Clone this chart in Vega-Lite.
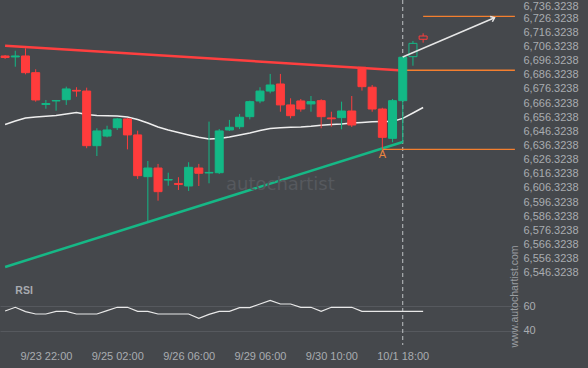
{
  "$schema": "https://vega.github.io/schema/vega-lite/v6.json",
  "width": 520,
  "height": 345,
  "autosize": {"type": "none"},
  "padding": {"left": 0, "top": 0, "right": 68, "bottom": 23},
  "background": "#45484c",
  "config": {
    "view": {"stroke": null},
    "font": "Liberation Sans",
    "axis": {"labelFont": "Liberation Sans", "labelOverlap": false, "labelSeparation": 0, "labelFontSize": 11},
    "text": {"font": "Liberation Sans"}
  },
  "datasets": {
    "candles": [
      {"t": "9/23 06:00", "o": 6699.6, "h": 6700.3, "l": 6697.5, "c": 6698.5, "k": "down"},
      {"t": "9/23 10:00", "o": 6698.9, "h": 6703.3, "l": 6692.0, "c": 6699.6, "k": "up"},
      {"t": "9/23 14:00", "o": 6699.6, "h": 6705.0, "l": 6686.6, "c": 6687.8, "k": "down"},
      {"t": "9/23 18:00", "o": 6687.8, "h": 6690.2, "l": 6667.3, "c": 6668.5, "k": "down"},
      {"t": "9/23 22:00", "o": 6665.3, "h": 6668.5, "l": 6662.3, "c": 6666.0, "k": "up"},
      {"t": "9/24 02:00", "o": 6667.8, "h": 6668.5, "l": 6660.9, "c": 6668.1, "k": "up"},
      {"t": "9/24 06:00", "o": 6668.7, "h": 6677.9, "l": 6665.0, "c": 6676.3, "k": "up"},
      {"t": "9/24 10:00", "o": 6675.3, "h": 6677.5, "l": 6670.8, "c": 6674.8, "k": "down"},
      {"t": "9/24 14:00", "o": 6674.8, "h": 6677.2, "l": 6634.4, "c": 6636.2, "k": "down"},
      {"t": "9/24 18:00", "o": 6636.2, "h": 6648.5, "l": 6628.9, "c": 6646.6, "k": "up"},
      {"t": "9/24 22:00", "o": 6643.0, "h": 6650.3, "l": 6642.1, "c": 6647.3, "k": "up"},
      {"t": "9/25 02:00", "o": 6648.9, "h": 6655.8, "l": 6647.3, "c": 6655.1, "k": "up"},
      {"t": "9/25 06:00", "o": 6655.1, "h": 6655.8, "l": 6633.6, "c": 6643.8, "k": "down"},
      {"t": "9/25 10:00", "o": 6643.8, "h": 6646.8, "l": 6612.7, "c": 6615.0, "k": "down"},
      {"t": "9/25 14:00", "o": 6614.3, "h": 6625.4, "l": 6582.5, "c": 6620.4, "k": "up"},
      {"t": "9/25 18:00", "o": 6620.4, "h": 6623.3, "l": 6597.3, "c": 6603.7, "k": "down"},
      {"t": "9/25 22:00", "o": 6611.9, "h": 6617.1, "l": 6607.9, "c": 6612.3, "k": "up"},
      {"t": "9/26 02:00", "o": 6609.5, "h": 6613.9, "l": 6604.9, "c": 6608.8, "k": "down"},
      {"t": "9/26 06:00", "o": 6607.7, "h": 6624.5, "l": 6604.2, "c": 6620.9, "k": "up"},
      {"t": "9/26 10:00", "o": 6620.4, "h": 6623.3, "l": 6607.7, "c": 6616.7, "k": "down"},
      {"t": "9/26 14:00", "o": 6616.9, "h": 6653.2, "l": 6609.6, "c": 6617.3, "k": "up"},
      {"t": "9/26 18:00", "o": 6617.1, "h": 6648.0, "l": 6616.2, "c": 6646.6, "k": "up"},
      {"t": "9/26 22:00", "o": 6647.3, "h": 6654.4, "l": 6646.6, "c": 6649.2, "k": "up"},
      {"t": "9/28 22:00", "o": 6649.6, "h": 6658.6, "l": 6648.0, "c": 6656.3, "k": "up"},
      {"t": "9/29 02:00", "o": 6656.7, "h": 6668.0, "l": 6654.8, "c": 6667.3, "k": "up"},
      {"t": "9/29 06:00", "o": 6667.8, "h": 6677.5, "l": 6666.2, "c": 6674.8, "k": "up"},
      {"t": "9/29 10:00", "o": 6674.8, "h": 6686.9, "l": 6673.2, "c": 6679.1, "k": "up"},
      {"t": "9/29 14:00", "o": 6679.8, "h": 6686.9, "l": 6660.2, "c": 6665.0, "k": "down"},
      {"t": "9/29 18:00", "o": 6665.0, "h": 6669.7, "l": 6655.5, "c": 6657.4, "k": "down"},
      {"t": "9/29 22:00", "o": 6667.8, "h": 6669.2, "l": 6660.2, "c": 6662.1, "k": "down"},
      {"t": "9/30 02:00", "o": 6665.7, "h": 6671.3, "l": 6660.2, "c": 6667.3, "k": "up"},
      {"t": "9/30 06:00", "o": 6668.0, "h": 6669.0, "l": 6648.5, "c": 6656.7, "k": "down"},
      {"t": "9/30 10:00", "o": 6655.8, "h": 6660.2, "l": 6649.6, "c": 6655.2, "k": "down"},
      {"t": "9/30 18:00", "o": 6656.0, "h": 6667.3, "l": 6647.8, "c": 6660.7, "k": "up"},
      {"t": "9/30 22:00", "o": 6660.7, "h": 6671.3, "l": 6649.4, "c": 6650.8, "k": "down"},
      {"t": "10/1 02:00", "o": 6691.6, "h": 6691.8, "l": 6675.1, "c": 6677.9, "k": "down"},
      {"t": "10/1 06:00", "o": 6677.5, "h": 6679.1, "l": 6660.2, "c": 6662.1, "k": "down"},
      {"t": "10/1 10:00", "o": 6662.1, "h": 6663.0, "l": 6633.6, "c": 6642.1, "k": "down"},
      {"t": "10/1 14:00", "o": 6641.4, "h": 6669.2, "l": 6638.6, "c": 6668.0, "k": "up"},
      {"t": "10/1 18:00", "o": 6668.0, "h": 6699.6, "l": 6638.1, "c": 6698.7, "k": "up"},
      {"t": "10/1 22:00", "o": 6699.1, "h": 6710.2, "l": 6692.7, "c": 6708.5, "k": "upH"},
      {"t": "10/2 02:00", "o": 6713.7, "h": 6715.6, "l": 6709.0, "c": 6711.4, "k": "downH"}
    ],
    "ma": [
      {"t": "9/23 06:00", "v": 6651.2}, {"t": "9/23 10:00", "v": 6653.6}, {"t": "9/23 14:00", "v": 6655.8},
      {"t": "9/23 18:00", "v": 6656.5}, {"t": "9/23 22:00", "v": 6657.0}, {"t": "9/24 02:00", "v": 6657.5},
      {"t": "9/24 06:00", "v": 6658.6}, {"t": "9/24 10:00", "v": 6659.6}, {"t": "9/24 14:00", "v": 6658.2},
      {"t": "9/24 18:00", "v": 6657.5}, {"t": "9/24 22:00", "v": 6657.3}, {"t": "9/25 02:00", "v": 6657.2},
      {"t": "9/25 06:00", "v": 6656.5}, {"t": "9/25 10:00", "v": 6654.7}, {"t": "9/25 14:00", "v": 6652.2},
      {"t": "9/25 18:00", "v": 6649.4}, {"t": "9/25 22:00", "v": 6647.3}, {"t": "9/26 02:00", "v": 6645.5},
      {"t": "9/26 06:00", "v": 6643.8}, {"t": "9/26 10:00", "v": 6642.1}, {"t": "9/26 14:00", "v": 6640.9},
      {"t": "9/26 18:00", "v": 6641.3}, {"t": "9/26 22:00", "v": 6642.3}, {"t": "9/28 22:00", "v": 6643.8},
      {"t": "9/29 02:00", "v": 6645.2}, {"t": "9/29 06:00", "v": 6646.9}, {"t": "9/29 10:00", "v": 6648.3},
      {"t": "9/29 14:00", "v": 6648.8}, {"t": "9/29 18:00", "v": 6649.2}, {"t": "9/29 22:00", "v": 6649.4},
      {"t": "9/30 02:00", "v": 6649.9}, {"t": "9/30 06:00", "v": 6650.7}, {"t": "9/30 10:00", "v": 6651.2},
      {"t": "9/30 18:00", "v": 6651.5}, {"t": "9/30 22:00", "v": 6652.2}, {"t": "10/1 02:00", "v": 6652.6},
      {"t": "10/1 06:00", "v": 6653.1}, {"t": "10/1 10:00", "v": 6653.2}, {"t": "10/1 14:00", "v": 6653.3},
      {"t": "10/1 18:00", "v": 6655.5}, {"t": "10/1 22:00", "v": 6659.3}, {"t": "10/2 02:00", "v": 6663.2}
    ],
    "rsi": [
      {"t": "9/23 06:00", "r": 56.1}, {"t": "9/23 10:00", "r": 59.2}, {"t": "9/23 14:00", "r": 55.6},
      {"t": "9/23 18:00", "r": 53.7}, {"t": "9/23 22:00", "r": 53.7}, {"t": "9/24 02:00", "r": 55.9},
      {"t": "9/24 06:00", "r": 55.9}, {"t": "9/24 10:00", "r": 53.7}, {"t": "9/24 14:00", "r": 53.7},
      {"t": "9/24 18:00", "r": 53.7}, {"t": "9/24 22:00", "r": 56.4}, {"t": "9/25 02:00", "r": 59.2},
      {"t": "9/25 06:00", "r": 59.2}, {"t": "9/25 10:00", "r": 55.9}, {"t": "9/25 14:00", "r": 55.9},
      {"t": "9/25 18:00", "r": 53.7}, {"t": "9/25 22:00", "r": 53.7}, {"t": "9/26 02:00", "r": 53.7},
      {"t": "9/26 06:00", "r": 53.7}, {"t": "9/26 10:00", "r": 50.2}, {"t": "9/26 14:00", "r": 53.4},
      {"t": "9/26 18:00", "r": 55.9}, {"t": "9/26 22:00", "r": 55.9}, {"t": "9/28 22:00", "r": 58.9},
      {"t": "9/29 02:00", "r": 58.9}, {"t": "9/29 06:00", "r": 61.9}, {"t": "9/29 10:00", "r": 64.9},
      {"t": "9/29 14:00", "r": 61.9}, {"t": "9/29 18:00", "r": 61.9}, {"t": "9/29 22:00", "r": 59.2},
      {"t": "9/30 02:00", "r": 59.2}, {"t": "9/30 06:00", "r": 55.9}, {"t": "9/30 10:00", "r": 59.2},
      {"t": "9/30 18:00", "r": 59.2}, {"t": "9/30 22:00", "r": 59.2}, {"t": "10/1 02:00", "r": 55.9},
      {"t": "10/1 06:00", "r": 55.9}, {"t": "10/1 10:00", "r": 55.9}, {"t": "10/1 14:00", "r": 55.9},
      {"t": "10/1 18:00", "r": 55.9}, {"t": "10/1 22:00", "r": 55.9}, {"t": "10/2 02:00", "r": 55.9}
    ]
  },
  "layer": [
    {
      "encoding": {
        "x": {
          "field": "t", "type": "ordinal",
          "scale": {"type": "point", "padding": 0.5, "domain": ["9/23 06:00","9/23 10:00","9/23 14:00","9/23 18:00","9/23 22:00","9/24 02:00","9/24 06:00","9/24 10:00","9/24 14:00","9/24 18:00","9/24 22:00","9/25 02:00","9/25 06:00","9/25 10:00","9/25 14:00","9/25 18:00","9/25 22:00","9/26 02:00","9/26 06:00","9/26 10:00","9/26 14:00","9/26 18:00","9/26 22:00","9/28 22:00","9/29 02:00","9/29 06:00","9/29 10:00","9/29 14:00","9/29 18:00","9/29 22:00","9/30 02:00","9/30 06:00","9/30 10:00","9/30 18:00","9/30 22:00","10/1 02:00","10/1 06:00","10/1 10:00","10/1 14:00","10/1 18:00","10/1 22:00","10/2 02:00","10/2 06:00","10/2 10:00","10/2 14:00","10/2 18:00","10/2 22:00","10/3 02:00","10/3 06:00","10/3 10:00","10/3 14:00"]},
          "axis": {"values": ["9/23 22:00","9/25 02:00","9/26 06:00","9/29 06:00","9/30 10:00","10/1 18:00"], "title": null, "ticks": false, "domain": false, "grid": false, "labelColor": "#a9acb0", "labelFontSize": 11, "labelPadding": 5, "labelAngle": 0}
        }
      },
      "layer": [
        {
          "data": {"values": [{"t": "10/1 18:00"}]},
          "mark": {"type": "rule", "color": "#bfc2c5", "strokeDash": [4, 3], "strokeWidth": 1}
        },
        {
          "data": {"name": "ma"},
          "mark": {"type": "line", "color": "#eeeeee", "strokeWidth": 1.5},
          "encoding": {
            "y": {"field": "v", "type": "quantitative", "scale": {"domain": [6495.33, 6739.15], "nice": false, "zero": false},
              "axis": {"orient": "right", "title": null, "grid": false, "ticks": false, "domain": false, "labelColor": "#a9acb0", "labelFontSize": 11, "labelPadding": 3, "labelOverlap": false, "labelBound": false, "labelFlush": 6, "labelFlushOffset": 3.5, "tickCount": 40, "format": ",.4f",
                "values": [6546.3238,6556.3238,6566.3238,6576.3238,6586.3238,6596.3238,6606.3238,6616.3238,6626.3238,6636.3238,6646.3238,6656.3238,6666.3238,6676.3238,6686.3238,6696.3238,6706.3238,6716.3238,6726.3238,6736.3238]}}
          }
        },
        {
          "data": {"values": [{"t": "9/23 06:00", "p": 6706.9}, {"t": "10/1 18:00", "p": 6689.3}]},
          "mark": {"type": "line", "color": "#ff3f3f", "strokeWidth": 2.5},
          "encoding": {"y": {"field": "p", "type": "quantitative", "scale": {"domain": [6495.33, 6739.15], "nice": false, "zero": false}}}
        },
        {
          "data": {"values": [{"t": "9/23 06:00", "p": 6550.5}, {"t": "10/1 18:00", "p": 6638.8}]},
          "mark": {"type": "line", "color": "#16b886", "strokeWidth": 2.5},
          "encoding": {"y": {"field": "p", "type": "quantitative", "scale": {"domain": [6495.33, 6739.15], "nice": false, "zero": false}}}
        },
        {
          "data": {"values": [
            {"t": "10/2 02:00", "t2": "10/3 14:00", "p": 6727.6},
            {"t": "10/1 18:00", "t2": "10/3 14:00", "p": 6689.5},
            {"t": "10/1 10:00", "t2": "10/3 14:00", "p": 6633.6}
          ]},
          "mark": {"type": "rule", "color": "#f47f2f", "strokeWidth": 1.3},
          "encoding": {
            "x2": {"field": "t2"},
            "y": {"field": "p", "type": "quantitative", "scale": {"domain": [6495.33, 6739.15], "nice": false, "zero": false}}
          }
        },
        {
          "data": {"name": "candles"},
          "mark": {"type": "rule", "strokeWidth": 1},
          "encoding": {
            "y": {"field": "l", "type": "quantitative", "scale": {"domain": [6495.33, 6739.15], "nice": false, "zero": false}},
            "y2": {"field": "h"},
            "stroke": {"field": "k", "type": "nominal", "scale": {"domain": ["up","down","upH","downH"], "range": ["#13b886","#ff3c3c","#13b886","#ff3c3c"]}, "legend": null}
          }
        },
        {
          "data": {"name": "candles"},
          "mark": {"type": "bar", "width": 8, "strokeWidth": 1},
          "encoding": {
            "y": {"field": "o", "type": "quantitative", "scale": {"domain": [6495.33, 6739.15], "nice": false, "zero": false}},
            "y2": {"field": "c"},
            "fill": {"field": "k", "type": "nominal", "scale": {"domain": ["up","down","upH","downH"], "range": ["#13b886","#ff3c3c","#45484c","#45484c"]}, "legend": null},
            "stroke": {"field": "k", "type": "nominal", "scale": {"domain": ["up","down","upH","downH"], "range": ["#13b886","#ff3c3c","#13b886","#ff3c3c"]}, "legend": null}
          }
        },
        {
          "data": {"values": [{"t": "10/1 18:00", "p": 6698.9}, {"t": "10/3 06:00", "p": 6726.6}]},
          "mark": {"type": "line", "color": "#e6e6e6", "strokeWidth": 1.5},
          "encoding": {"y": {"field": "p", "type": "quantitative", "scale": {"domain": [6495.33, 6739.15], "nice": false, "zero": false}}}
        },
        {
          "data": {"values": [{"t": "10/3 06:00", "p": 6726.6}]},
          "mark": {"type": "point", "shape": "M-1,-0.8L0,0L-1,0.8", "filled": false, "stroke": "#e6e6e6", "strokeWidth": 1.5, "size": 50, "angle": 337, "opacity": 1},
          "encoding": {"y": {"field": "p", "type": "quantitative", "scale": {"domain": [6495.33, 6739.15], "nice": false, "zero": false}}}
        },
        {
          "data": {"values": [{"t": "10/1 10:00", "p": 6629.4, "label": "A"}]},
          "mark": {"type": "text", "color": "#ec8540", "fontSize": 11, "align": "center", "baseline": "middle"},
          "encoding": {
            "y": {"field": "p", "type": "quantitative", "scale": {"domain": [6495.33, 6739.15], "nice": false, "zero": false}},
            "text": {"field": "label"}
          }
        },
        {
          "data": {"values": [{"t": "9/29 14:00", "p": 6604.9, "label": "autochartist"}]},
          "mark": {"type": "text", "color": "#56595e", "font": "DejaVu Sans", "fontSize": 18, "align": "center", "baseline": "alphabetic"},
          "encoding": {
            "y": {"field": "p", "type": "quantitative", "scale": {"domain": [6495.33, 6739.15], "nice": false, "zero": false}},
            "text": {"field": "label"}
          }
        },
        {
          "data": {"values": [{"t": "10/3 14:00", "p": 6529.6, "label": "www.autochartist.com"}]},
          "mark": {"type": "text", "color": "#9a9da1", "fontSize": 10.5, "angle": 270, "align": "center", "baseline": "middle"},
          "encoding": {
            "y": {"field": "p", "type": "quantitative", "scale": {"domain": [6495.33, 6739.15], "nice": false, "zero": false}},
            "text": {"field": "label"}
          }
        }
      ]
    },
    {
      "encoding": {
        "x": {"field": "t", "type": "ordinal"}
      },
      "layer": [
        {
          "data": {"name": "rsi"},
          "mark": {"type": "line", "color": "#e8e8e8", "strokeWidth": 1.2},
          "encoding": {
            "y": {"field": "r", "type": "quantitative", "scale": {"domain": [28.28, 311.07], "nice": false, "zero": false},
              "axis": {"orient": "right", "title": null, "values": [40, 60], "grid": true, "gridColor": "#56595e", "gridWidth": 1, "ticks": false, "domain": false, "labelColor": "#a9acb0", "labelFontSize": 11, "labelPadding": 3}}
          }
        },
        {
          "data": {"values": [{"t": "9/23 10:00", "r": 72.5, "label": "RSI"}]},
          "mark": {"type": "text", "color": "#a8abb0", "fontSize": 10.5, "fontWeight": "bold", "align": "left", "baseline": "middle"},
          "encoding": {
            "y": {"field": "r", "type": "quantitative", "scale": {"domain": [28.28, 311.07], "nice": false, "zero": false}},
            "text": {"field": "label"}
          }
        }
      ]
    }
  ],
  "resolve": {"scale": {"y": "independent"}, "axis": {"y": "independent"}}
}
